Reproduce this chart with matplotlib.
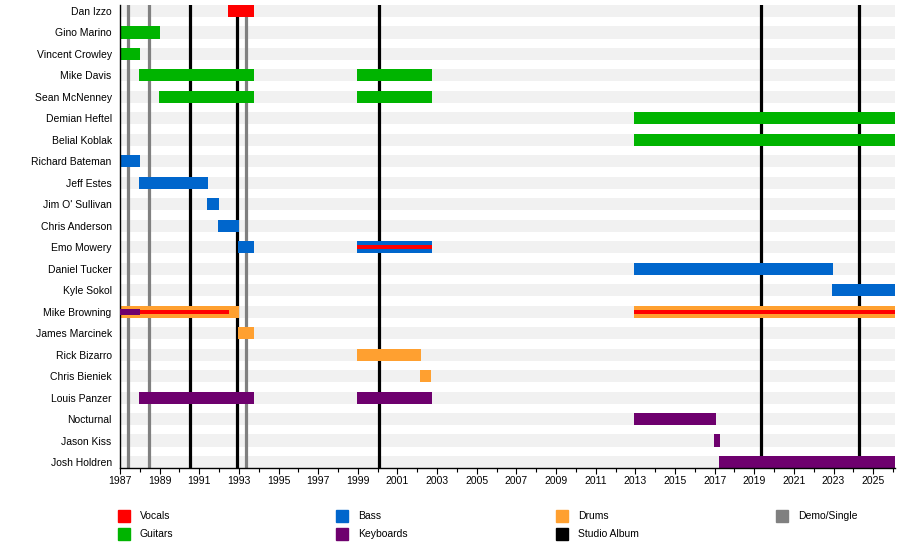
import matplotlib
matplotlib.use("Agg")
import matplotlib.pyplot as plt
from matplotlib.patches import Rectangle

plt.rcParams['font.family'] = ['Liberation Sans', 'DejaVu Sans']

END = 2026.1
START = 1987.0

members = ["Dan Izzo", "Gino Marino", "Vincent Crowley", "Mike Davis", "Sean McNenney",
           "Demian Heftel", "Belial Koblak", "Richard Bateman", "Jeff Estes", "Jim O' Sullivan",
           "Chris Anderson", "Emo Mowery", "Daniel Tucker", "Kyle Sokol", "Mike Browning",
           "James Marcinek", "Rick Bizarro", "Chris Bieniek", "Louis Panzer", "Nocturnal",
           "Jason Kiss", "Josh Holdren"]

# main bars
bar_member = ["Dan Izzo", "Gino Marino", "Vincent Crowley", "Mike Davis", "Mike Davis",
              "Sean McNenney", "Sean McNenney", "Demian Heftel", "Belial Koblak",
              "Richard Bateman", "Jeff Estes", "Jim O' Sullivan", "Chris Anderson",
              "Emo Mowery", "Emo Mowery", "Daniel Tucker", "Kyle Sokol",
              "Mike Browning", "Mike Browning", "James Marcinek", "Rick Bizarro",
              "Chris Bieniek", "Louis Panzer", "Louis Panzer", "Nocturnal", "Jason Kiss",
              "Josh Holdren"]
bar_role = ["Vocals", "Guitars", "Guitars", "Guitars", "Guitars",
            "Guitars", "Guitars", "Guitars", "Guitars",
            "Bass", "Bass", "Bass", "Bass",
            "Bass", "Bass", "Bass", "Bass",
            "Drums", "Drums", "Drums", "Drums",
            "Drums", "Keyboards", "Keyboards", "Keyboards", "Keyboards",
            "Keyboards"]
bar_start = [1992.45, 1987.0, 1987.0, 1987.95, 1998.95,
             1988.95, 1998.95, 2012.92, 2012.92,
             1987.0, 1987.95, 1991.4, 1991.95,
             1992.95, 1998.95, 2012.92, 2022.92,
             1987.0, 2012.92, 1992.95, 1998.95,
             2002.15, 1987.95, 1998.95, 2012.92, 2016.95,
             2017.2]
bar_end = [1993.75, 1989.0, 1988.0, 1993.75, 2002.72,
           1993.75, 2002.72, END, END,
           1988.0, 1991.45, 1992.0, 1993.0,
           1993.75, 2002.72, 2022.95, END,
           1993.0, END, 1993.75, 2002.2,
           2002.7, 1993.75, 2002.72, 2017.05, 2017.25,
           END]

# thin overlay bars (secondary roles)
thin_member = ["Emo Mowery", "Mike Browning", "Mike Browning", "Mike Browning"]
thin_role = ["Vocals", "Vocals", "Keyboards", "Vocals"]
thin_start = [1998.95, 1987.0, 1987.0, 2012.92]
thin_end = [2002.72, 1992.5, 1988.0, END]

album_dates = [1990.55, 1992.9, 2000.05, 2019.35, 2024.3]
demo_dates = [1987.4, 1988.45, 1993.35]

colors = {"Vocals": "#ff0000", "Guitars": "#00b400", "Bass": "#0066cc",
          "Drums": "#ffa030", "Keyboards": "#6e006e",
          "Studio Album": "#000000", "Demo/Single": "#808080"}
thin_h = {"Vocals": 0.2, "Keyboards": 0.28}

fig = plt.figure(figsize=(9, 5.57), dpi=100)
W, H = 900, 557
ax = fig.add_axes([120 / W, 1 - 468 / H, 775 / W, 463 / H])

ypos = {m: i for i, m in enumerate(members)}
bh = 0.56

# background stripes
ax.barh(range(len(members)), END - START, left=START, height=bh,
        color="#f1f1f1", zorder=0)

for d in demo_dates:
    ax.axvline(d, color=colors["Demo/Single"], lw=2.3, zorder=1)
for d in album_dates:
    ax.axvline(d, color=colors["Studio Album"], lw=2.3, zorder=1)

for m, r, s, e in zip(bar_member, bar_role, bar_start, bar_end):
    ax.barh(ypos[m], e - s, left=s, height=bh, color=colors[r], zorder=2)

for m, r, s, e in zip(thin_member, thin_role, thin_start, thin_end):
    ax.barh(ypos[m], e - s, left=s, height=thin_h[r], color=colors[r], zorder=3)

ax.set_xlim(START, END)
ax.set_ylim(len(members) - 1 + 0.28, -0.28)
ax.set_yticks(range(len(members)))
ax.set_yticklabels(members, fontsize=7.5)
ax.tick_params(axis='y', length=0, pad=6)

major = list(range(1987, 2026, 2))
ax.set_xticks(major)
ax.set_xticklabels([str(y) for y in major], fontsize=7.5)
ax.set_xticks(list(range(1988, 2027, 2)), minor=True)
ax.tick_params(axis='x', which='major', length=4, width=0.8, pad=2)
ax.tick_params(axis='x', which='minor', length=3, width=0.8)

for sp in ["top", "right"]:
    ax.spines[sp].set_visible(False)
for sp in ["left", "bottom"]:
    ax.spines[sp].set_linewidth(1.0)
    ax.spines[sp].set_color("black")

legend_items = [["Vocals", "Guitars"], ["Bass", "Keyboards"],
                ["Drums", "Studio Album"], ["Demo/Single"]]
col_x = [118, 336, 556, 776]
row_y = [516, 534]
for cx, items in zip(col_x, legend_items):
    for ry, name in zip(row_y, items):
        fig.patches.append(Rectangle((cx / W, 1 - (ry + 6) / H), 12 / W, 12 / H,
                                     transform=fig.transFigure, color=colors[name]))
        fig.text((cx + 22) / W, 1 - ry / H, name, fontsize=7.5, va='center', ha='left')

fig.savefig("out.png", dpi=100)
